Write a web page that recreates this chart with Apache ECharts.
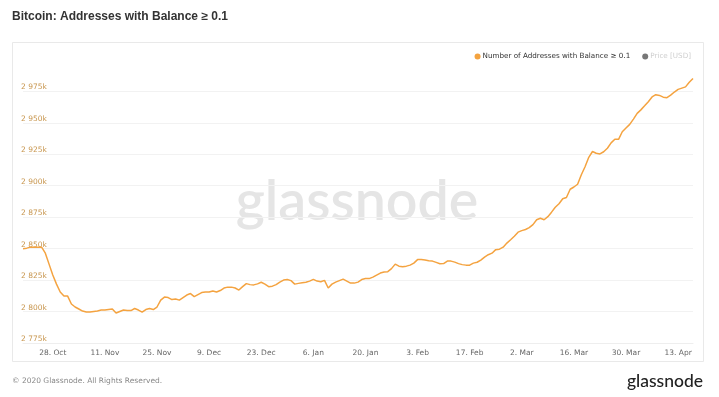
<!DOCTYPE html>
<html>
<head>
<meta charset="utf-8">
<script src="https://cdn.jsdelivr.net/npm/echarts@6/dist/echarts.min.js"></script>
<style>
html,body{margin:0;padding:0;background:#fff;}
#chart{width:719px;height:397px;}
</style>
</head>
<body>
<div id="chart"></div>
<script>
// ---- data ----
const startDate = [2019, 9, 20]; // 20 Oct 2019, daily points
const monthNames = ['Jan','Feb','Mar','Apr','May','Jun','Jul','Aug','Sep','Oct','Nov','Dec'];
const tickLabels = ['28. Oct','11. Nov','25. Nov','9. Dec','23. Dec','6. Jan','20. Jan','3. Feb','17. Feb','2. Mar','16. Mar','30. Mar','13. Apr'];
const yTicks = [2775, 2800, 2825, 2850, 2875, 2900, 2925, 2950, 2975];
// Number of addresses with balance >= 0.1 (thousands)
const addresses = [
  2850.0, 2850.4, 2851.2, 2851.2, 2851.2, 2851.2, 2846.4, 2837.7, 2829.0, 2821.8,
  2815.5, 2812.3, 2812.3, 2806.0, 2803.6, 2802.0, 2800.4, 2799.6, 2799.6, 2800.0,
  2800.4, 2801.2, 2801.2, 2801.6, 2802.0, 2798.8, 2800.0, 2801.2, 2800.8, 2800.8,
  2802.4, 2801.2, 2799.6, 2801.6, 2802.4, 2801.6, 2803.6, 2809.1, 2811.5, 2811.1,
  2809.5, 2809.9, 2809.1, 2811.1, 2813.1, 2814.3, 2811.9, 2813.5, 2815.1, 2815.5,
  2815.5, 2816.3, 2815.5, 2816.7, 2818.7, 2819.4, 2819.4, 2818.7, 2817.1, 2819.8,
  2822.2, 2821.4, 2821.2, 2822.0, 2823.3, 2821.8, 2819.8, 2820.2, 2821.4, 2823.4,
  2825.0, 2825.4, 2824.6, 2821.8, 2822.4, 2822.9, 2823.3, 2824.2, 2825.6, 2824.2,
  2823.7, 2824.8, 2818.7, 2821.8, 2823.4, 2824.6, 2825.8, 2824.2, 2822.6, 2822.6,
  2823.4, 2825.4, 2826.2, 2826.2, 2827.4, 2829.0, 2830.6, 2831.4, 2831.7, 2834.1,
  2837.7, 2836.1, 2835.7, 2836.1, 2836.9, 2838.5, 2841.3, 2841.3, 2840.9, 2840.3,
  2840.1, 2839.1, 2838.0, 2838.1, 2840.1, 2840.1, 2839.3, 2838.1, 2837.3, 2836.9,
  2836.9, 2838.5, 2839.2, 2840.9, 2843.3, 2845.2, 2846.4, 2849.2, 2849.6, 2851.2,
  2854.4, 2857.1, 2859.9, 2863.1, 2864.3, 2865.2, 2866.7, 2869.1, 2873.0, 2874.2,
  2873.0, 2875.4, 2879.0, 2882.9, 2885.7, 2889.7, 2890.7, 2897.2, 2899.0, 2901.2,
  2908.7, 2915.1, 2922.6, 2927.2, 2925.8, 2925.3, 2927.0, 2929.8, 2934.1, 2936.9,
  2936.9, 2942.9, 2945.9, 2948.8, 2953.0, 2957.5, 2960.3, 2963.5, 2966.8, 2970.6,
  2972.4, 2971.8, 2970.4, 2970.0, 2972.0, 2974.5, 2976.6, 2977.6, 2978.6, 2982.2,
  2985.3
];
const seriesName = 'Number of Addresses with Balance \u2265 0.1';
const priceName = 'Price [USD]';

// ---- build categories ----
const t0 = Date.UTC(startDate[0], startDate[1], startDate[2]);
const categories = addresses.map((_, i) => {
  const d = new Date(t0 + i * 86400000);
  return d.getUTCDate() + '. ' + monthNames[d.getUTCMonth()];
});

const chart = echarts.init(document.getElementById('chart'), null, {renderer: 'canvas'});
const fontMain = 'DejaVu Sans';
chart.setOption({
  animation: false,
  backgroundColor: '#ffffff',
  title: {
    text: 'Bitcoin: Addresses with Balance \u2265 0.1',
    left: 12, top: 11, padding: 0,
    textStyle: {fontFamily: 'Liberation Sans', fontSize: 12, fontWeight: 'bold', color: '#333'}
  },
  graphic: [
    {type: 'rect', z: -20, silent: true, shape: {x: 12.5, y: 42.5, width: 691, height: 319},
     style: {fill: '#fff', stroke: '#e9e9e9', lineWidth: 1}},
    {type: 'text', z: -10, silent: true, x: 357, y: 202,
     style: {text: 'glassnode', fontFamily: 'Lato', fontSize: 55.5, fontWeight: 600, fill: '#e5e5e5', align: 'center', verticalAlign: 'middle'}},
    {type: 'text', silent: true, x: 12, y: 381,
     style: {text: '\u00a9 2020 Glassnode. All Rights Reserved.', fontFamily: fontMain, fontSize: 7.5, fill: '#888', verticalAlign: 'middle'}},
    {type: 'text', silent: true, x: 703, y: 381,
     style: {text: 'glassnode', fontFamily: 'Lato', fontSize: 17.5, fontWeight: 500, fill: '#222', align: 'right', verticalAlign: 'middle'}}
  ],
  legend: {
    right: 23, top: 48,
    icon: 'circle', itemWidth: 6, itemHeight: 6, itemGap: 12,
    textStyle: {fontFamily: fontMain, fontSize: 7.2, color: '#333', padding: [0, 0, 0, -3]},
    data: [
      {name: seriesName},
      {name: priceName, textStyle: {color: '#cfcfcf'}}
    ]
  },
  grid: {left: 23, right: 26, top: 70, bottom: 54},
  xAxis: {
    type: 'category',
    data: categories,
    boundaryGap: false,
    axisLine: {show: true, lineStyle: {color: '#eeeeee'}},
    axisTick: {show: false},
    axisLabel: {
      interval: (idx, val) => tickLabels.includes(val),
      fontFamily: fontMain, fontSize: 7.5, color: '#666', margin: 6
    },
    splitLine: {show: false}
  },
  yAxis: {
    type: 'value',
    min: yTicks[0], max: 2992, interval: 25,
    axisLine: {show: false},
    axisTick: {show: false},
    splitLine: {show: true, showMinLine: false, showMaxLine: false, lineStyle: {color: '#f2f2f2'}},
    axisLabel: {
      inside: true, margin: -2,
      verticalAlign: 'bottom',
      fontFamily: fontMain, fontSize: 7.5, color: '#c8964e',
      formatter: v => yTicks.includes(v) ? (Math.floor(v / 1000) + ' ' + String(v % 1000).padStart(3, '0') + 'k') : ''
    }
  },
  series: [
    {
      name: seriesName, type: 'line', data: addresses,
      showSymbol: false, symbol: 'none',
      lineStyle: {color: '#f4a340', width: 1.5},
      itemStyle: {color: '#f4a340'},
      z: 5
    },
    {
      name: priceName, type: 'line', data: [],
      showSymbol: false,
      itemStyle: {color: '#777'}
    }
  ]
});
</script>
</body>
</html>
